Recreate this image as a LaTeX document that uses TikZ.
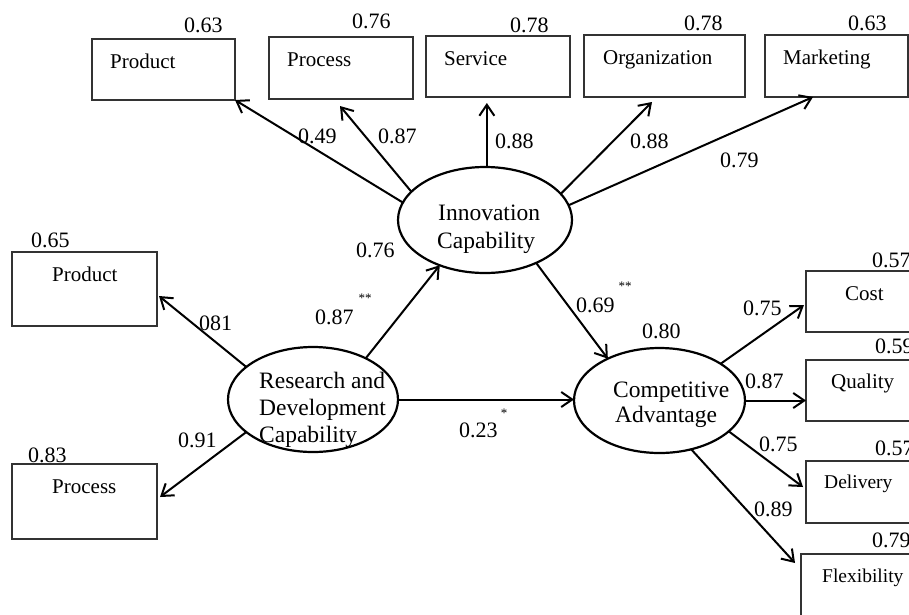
\documentclass[tikz,border=0pt]{standalone}
\usepackage{fontspec}
\setmainfont{Liberation Serif}
\usetikzlibrary{arrows.meta,shapes.geometric,calc}
\begin{document}
\begin{tikzpicture}[x=1pt,y=-1pt,
 box/.style={draw=black!80,line width=1.3pt,rectangle,inner sep=0pt,outer sep=0pt},
 lv/.style={draw,ellipse,line width=2.2pt,inner sep=0pt,outer sep=0pt},
 arr/.style={line width=2pt,-{Straight Barb[length=11pt,width=15pt]}},
 num/.style={inner sep=0pt,anchor=base west,font=\fontsize{22}{24}\selectfont},
 lbl/.style={inner sep=0pt,anchor=base west,font=\fontsize{21}{24}\selectfont},
 slbl/.style={inner sep=0pt,anchor=base west,font=\fontsize{19.5}{22}\selectfont},
 ltxt/.style={inner sep=0pt,anchor=base west,font=\fontsize{23.5}{27}\selectfont},
 star/.style={inner sep=0pt,font=\fontsize{13}{14}\selectfont}]
\useasboundingbox (0,0) rectangle (909,614);
\fill[white] (0,0) rectangle (909,614);

% top boxes
\node[box,minimum width=143pt,minimum height=61pt] (b1) at (163.5,69.5) {};
\node[box,minimum width=144pt,minimum height=62pt] (b2) at (341,68) {};
\node[box,minimum width=144pt,minimum height=61pt] (b3) at (498,66.5) {};
\node[box,minimum width=161pt,minimum height=62pt] (b4) at (664.5,66) {};
\node[box,minimum width=143pt,minimum height=62pt] (b5) at (836.5,66) {};
\node[lbl] (t1) at (110,68) {Product};
\node[lbl] (t2) at (287,66.5) {Process};
\node[lbl] (t3) at (444,65) {Service};
\node[lbl] (t4) at (603,64) {Organization};
\node[lbl] (t5) at (783,64) {Marketing};
\node[num] (n1) at (184,32) {0.63};
\node[num] (n2) at (352,28.5) {0.76};
\node[num] (n3) at (510,32) {0.78};
\node[num] (n4) at (684,30) {0.78};
\node[num] (n5) at (848,30) {0.63};

% left boxes
\node[box,minimum width=145pt,minimum height=74pt] (lp) at (84.5,289) {};
\node[box,minimum width=145pt,minimum height=75pt] (lq) at (84.5,501.5) {};
\node[lbl] (tlp) at (52,281.5) {Product};
\node[lbl] (tlq) at (52,493) {Process};
\node[num] (nlp) at (31,247) {0.65};
\node[num] (nlq) at (28,462) {0.83};

% right boxes (cut by the right edge, as in the original)
\node[box,minimum width=150pt,minimum height=61pt] (c) at (881,301.5) {};
\node[box,minimum width=150pt,minimum height=61pt] (q) at (881,390.5) {};
\node[box,minimum width=150pt,minimum height=62pt] (d) at (881,492) {};
\node[box,minimum width=150pt,minimum height=86pt] (f) at (876,597) {};
\node[lbl] (tc) at (845,300) {Cost};
\node[lbl] (tq) at (831,388) {Quality};
\node[slbl] (td) at (824,488) {Delivery};
\node[slbl] (tf) at (822,582) {Flexibility};
\node[num] (nc) at (872,267) {0.57};
\node[num] (nq) at (875,353) {0.59};
\node[num] (nd) at (875,455) {0.57};
\node[num] (nf) at (872,547) {0.79};

% latent variables
\node[lv,minimum width=174pt,minimum height=106pt] (inn) at (485,220) {};
\node[lv,minimum width=170pt,minimum height=105pt] (rd) at (313,399.5) {};
\node[lv,minimum width=171pt,minimum height=105pt] (ca) at (659.5,400.5) {};
\node[ltxt] (inn1) at (438,220) {Innovation};
\node[ltxt] (inn2) at (437,248) {Capability};
\node[ltxt] (rd1) at (259,388) {Research and};
\node[ltxt] (rd2) at (259,415) {Development};
\node[ltxt] (rd3) at (259,442) {Capability};
\node[ltxt] (ca1) at (613,397) {Competitive};
\node[ltxt] (ca2) at (615,422) {Advantage};
\node[num] (nca) at (642,338) {0.80};

% connectors from innovation
\coordinate (b3t) at ($(b3.south)+(0,6)$);
\draw[arr] (inn.168.4) -- (b1.south east);
\draw[arr] (inn.159) -- ($(b2.south)+(-1,7)$);
\draw[arr] (inn.88) -- (inn.88 |- b3t);
\draw[arr] (inn.19.8) -- ($(b4.south)+(-12.5,5)$);
\draw[arr] (inn.10.8) -- ($(b5.south)+(-23.5,0)$);
\node[num] (e1) at (298,143) {0.49};
\node[num] (e2) at (378,143) {0.87};
\node[num] (e3) at (495,148) {0.88};
\node[num] (e4) at (630,148) {0.88};
\node[num] (e5) at (720,167) {0.79};

% connectors from R&D
\draw[arr] (rd.154.5) -- ($(lp.east)+(2,7)$);
\draw[arr] (rd.206.2) -- ($(lq.east)+(3,-4.5)$);
\draw[arr] (rd.38.7) -- (inn.225);
\draw[arr] (rd.east) -- (rd.east -| ca.west);
\node[num] (e6) at (199,330) {081};
\node[num] (e7) at (178,447) {0.91};
\node[num] (e8) at (315,324) {0.87};
\node[star] (s8) at (365,298) {**};
\node[num] (e9) at (356,257) {0.76};
\node[num] (e10) at (459,437) {0.23};
\node[star] (s10) at (504,413) {*};

% innovation -> competitive
\draw[arr] (inn.-40.7) -- (ca.141);
\node[num] (e11) at (576,312) {0.69};
\node[star] (s11) at (625,286) {**};

% connectors from competitive advantage
\draw[arr] (ca.31.2) -- ($(c.west)+(-2,3.5)$);
\draw[arr] (ca.east) -- (ca.east -| q.west);
\draw[arr] (ca.-24.8) -- ($(d.west)+(-3,-5)$);
\draw[arr] (ca.-57.2) -- ($(f.north west)+(-6,9)$);
\node[num] (e12) at (743,315) {0.75};
\node[num] (e13) at (745,388) {0.87};
\node[num] (e14) at (759,451) {0.75};
\node[num] (e15) at (754,516) {0.89};
\end{tikzpicture}
\end{document}
